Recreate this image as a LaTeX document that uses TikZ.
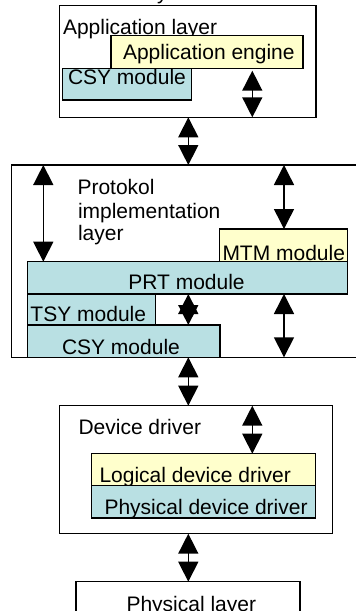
\documentclass[tikz,border=0pt]{standalone}
\usepackage{fontspec}
\setmainfont{Liberation Sans}
\usetikzlibrary{arrows.meta}
\definecolor{paleyellow}{RGB}{255,255,204}
\definecolor{paleblue}{RGB}{185,224,227}
\begin{document}
\begin{tikzpicture}[x=1pt,y=-1pt,
  every node/.style={inner sep=0pt,outer sep=0pt,font=\fontsize{21}{23}\selectfont},
  layerbox/.style={draw=black,line width=1.5pt,fill=white,anchor=north west},
  yelbox/.style={draw=black,line width=1.5pt,fill=paleyellow,anchor=north west},
  bluebox/.style={draw=black,line width=1.5pt,fill=paleblue,anchor=north west},
  lbl/.style={anchor=base west},
  dbl/.style={line width=1.5pt,{Triangle[width=20pt,length=20pt]}-{Triangle[width=20pt,length=20pt]}}]
\useasboundingbox (0,0) rectangle (356,611);

% arrow columns
\coordinate (cmid) at (188.3,0);
\coordinate (cright) at (252.3,0);
\coordinate (cleft) at (43.3,0);
\coordinate (cfar) at (284,0);

% fragment of the label above the application layer
\node[lbl] (toptxt) at (157,-0.5) {y};

% application layer
\node[layerbox,minimum width=256.5pt,minimum height=112pt] (app) at (59.5,5.3) {};
\node[lbl] (apptxt) at (63,34) {Application layer};
\node[bluebox,minimum width=128.6pt,minimum height=31.7pt] (csya) at (62.7,68.3) {};
\node[lbl] (csyatxt) at (68,84) {CSY module};
\node[yelbox,minimum width=192pt,minimum height=32.6pt] (eng) at (111,35.7) {};
\node[lbl] (engtxt) at (123,59) {Application engine};

% protocol implementation layer
\node[layerbox,minimum width=360pt,minimum height=192.3pt] (proto) at (11.7,165) {};
\node[lbl] (pr1) at (77.5,194) {Protokol};
\node[lbl] (pr2) at (78,218) {implementation};
\node[lbl] (pr3) at (78,240) {layer};
\node[yelbox,minimum width=128.4pt,minimum height=32.7pt] (mtm) at (219.3,229) {};
\node[lbl] (mtmtxt) at (222.5,260) {MTM module};
\node[bluebox,minimum width=320pt,minimum height=32.3pt] (prt) at (27.7,261.7) {};
\node[anchor=base] (prttxt) at (186.5,289) {PRT module};
\node[bluebox,minimum width=128pt,minimum height=31pt] (tsy) at (27.7,294) {};
\node[lbl] (tsytxt) at (30.5,321.7) {TSY module};
\node[bluebox,minimum width=192.3pt,minimum height=32.3pt] (csyb) at (27.7,325) {};
\node[lbl] (csybtxt) at (62,354) {CSY module};

% device driver
\node[layerbox,minimum width=273pt,minimum height=128pt] (dev) at (59.3,405.7) {};
\node[lbl] (devtxt) at (78.5,434) {Device driver};
\node[yelbox,minimum width=224pt,minimum height=32pt] (ldd) at (91.7,453.7) {};
\node[lbl] (lddtxt) at (99.5,482.7) {Logical device driver};
\node[bluebox,minimum width=224pt,minimum height=32.3pt] (pdd) at (91.7,485.7) {};
\node[lbl] (pddtxt) at (104.5,514) {Physical device driver};

% physical layer
\node[layerbox,minimum width=224pt,minimum height=60pt] (phys) at (76,581.7) {};
\node[lbl] (phystxt) at (126.5,611.5) {Physical layer};

% connectors
\draw[dbl,shorten <=2.4pt] (eng.south -| cright) -- (app.south -| cright);
\draw[dbl] (app.south -| cmid) -- (proto.north -| cmid);
\draw[dbl] (proto.north -| cleft) -- (prt.north -| cleft);
\draw[dbl] (proto.north -| cfar) -- (mtm.north -| cfar);
\draw[dbl] (prt.south -| cmid) -- (csyb.north -| cmid);
\draw[dbl] (prt.south -| cfar) -- (proto.south -| cfar);
\draw[dbl] (proto.south -| cmid) -- (dev.north -| cmid);
\draw[dbl] (dev.north -| cright) -- (ldd.north -| cright);
\draw[dbl] (dev.south -| cmid) -- (phys.north -| cmid);
\end{tikzpicture}
\end{document}
